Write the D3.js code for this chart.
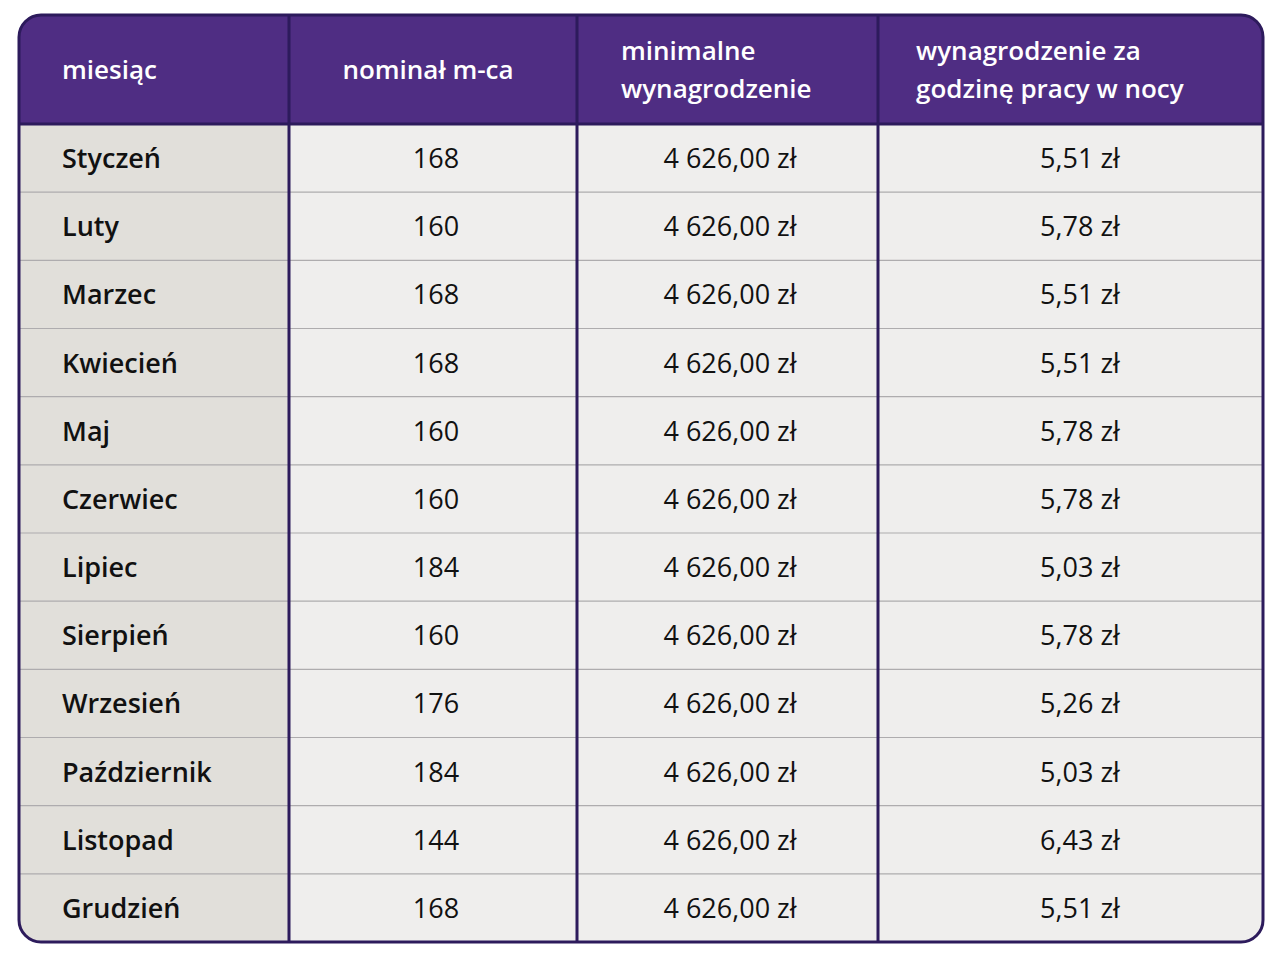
<!DOCTYPE html><html><head><meta charset="utf-8"><script src="https://cdn.jsdelivr.net/npm/d3@7"></script>
<style>body{margin:0;background:#fff}</style></head><body><svg id="c" width="1280" height="962"></svg>
<script>
const headers=[["miesiąc"],["nominał m-ca"],["minimalne","wynagrodzenie"],["wynagrodzenie za","godzinę pracy w nocy"]];
const months=["Styczeń","Luty","Marzec","Kwiecień","Maj","Czerwiec","Lipiec","Sierpień","Wrzesień","Październik","Listopad","Grudzień"];
const hours=[168,160,168,168,160,160,184,160,176,184,144,168];
const wage=months.map(()=> "4 626,00 zł");
const night=["5,51 zł","5,78 zł","5,51 zł","5,51 zł","5,78 zł","5,78 zł","5,03 zł","5,78 zł","5,26 zł","5,03 zł","6,43 zł","5,51 zł"];
const svg=d3.select("#c");
const X0=19,X1=1263,Y0=15,YH=124,Y1=942;
const colEdges=[X0,289,577,878,X1];
const y=d3.scaleBand().domain(d3.range(months.length)).range([YH,Y1]);
const font="'Open Sans', sans-serif";
svg.append("defs").append("clipPath").attr("id","cl").append("rect").attr("x",X0).attr("y",Y0).attr("width",X1-X0).attr("height",Y1-Y0).attr("rx",22);
const g=svg.append("g").attr("clip-path","url(#cl)");
g.append("rect").attr("x",X0).attr("y",Y0).attr("width",X1-X0).attr("height",YH-Y0).attr("fill","#4f2d83");
g.append("rect").attr("x",X0).attr("y",YH).attr("width",colEdges[1]-X0).attr("height",Y1-YH).attr("fill","#e1dfda");
g.append("rect").attr("x",colEdges[1]).attr("y",YH).attr("width",X1-colEdges[1]).attr("height",Y1-YH).attr("fill","#efeeed");
months.slice(1).forEach((m,i)=>g.append("line").attr("x1",X0).attr("x2",X1).attr("y1",y(i+1)).attr("y2",y(i+1)).attr("stroke","#aeacae").attr("stroke-width",1.2));
g.append("line").attr("x1",X0).attr("x2",X1).attr("y1",YH).attr("y2",YH).attr("stroke","#2d1b5c").attr("stroke-width",3);
colEdges.slice(1,4).forEach(x=>g.append("line").attr("x1",x).attr("x2",x).attr("y1",Y0).attr("y2",Y1).attr("stroke","#2d1b5c").attr("stroke-width",3));
svg.append("rect").attr("x",X0).attr("y",Y0).attr("width",X1-X0).attr("height",Y1-Y0).attr("rx",22).attr("fill","none").attr("stroke","#2d1b5c").attr("stroke-width",3);
const hx=[62,428,621,916],ha=["start","middle","start","start"];
headers.forEach((h,i)=>{
  const t=svg.append("text").attr("x",hx[i]).attr("text-anchor",ha[i]).attr("fill","#fff").attr("font-family",font).attr("font-size",26).attr("font-weight",600);
  const yc=(Y0+YH)/2+9; const start=yc-(h.length-1)*19;
  h.forEach((s,k)=>t.append("tspan").attr("x",hx[i]).attr("y",start+k*38).text(s));
});
const cx=[62,436,730,1080];
months.forEach((m,i)=>{
  const yy=y(i)+y.bandwidth()/2+10;
  const row=[m,hours[i],wage[i],night[i]];
  row.forEach((v,j)=>svg.append("text").attr("x",cx[j]).attr("y",yy).attr("text-anchor",j?"middle":"start")
    .attr("font-family",font).attr("font-size",27).attr("font-weight",j?400:600).attr("fill","#111").text(v));
});
</script></body></html>
